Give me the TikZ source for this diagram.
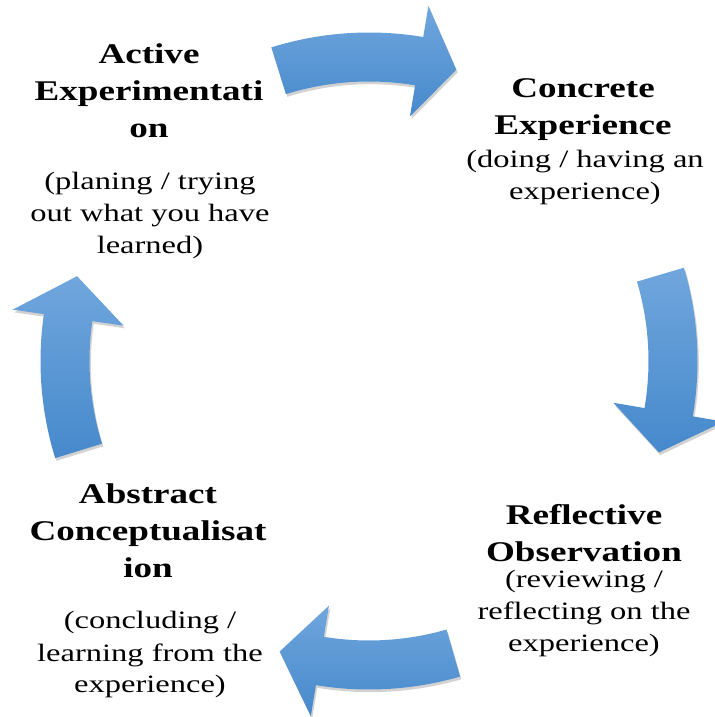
\documentclass[tikz,border=0pt]{standalone}
\usepackage{fontspec}
\setmainfont{Liberation Serif}
\usetikzlibrary{shadows}

\definecolor{arrowtop}{RGB}{112,166,221}
\definecolor{arrowbot}{RGB}{70,137,204}

\tikzset{
    cyclearrow/.style={top color=arrowtop, bottom color=arrowbot, draw=none,
        drop shadow={shadow xshift=1pt, shadow yshift=-2pt, opacity=0.25, fill=black!70}},
    stagehead/.style={align=center, anchor=base, inner sep=0pt, xscale=1.3,
        font=\fontsize{21.4pt}{28.1pt}\selectfont\bfseries},
    stagetext/.style={align=center, anchor=base, inner sep=0pt, xscale=1.3,
        font=\fontsize{18.75pt}{24pt}\selectfont}
}

\begin{document}
\begin{tikzpicture}[x=0.75pt, y=0.75pt]
    \useasboundingbox (0,0) rectangle (714,717);

    \node[stagehead] (ae) at (149, 579) {Active\\Experimentati\\on};
    \node[stagetext] (aetext) at (150, 463) {(planing / trying\\out what you have\\learned)};

    \node[stagehead] (ce) at (583, 582) {Concrete\\Experience};
    \node[stagetext] (cetext) at (585, 517) {(doing / having an\\experience)};

    \node[stagehead] (ro) at (584, 155) {Reflective\\Observation};
    \node[stagetext] (rotext) at (584, 65) {(reviewing /\\reflecting on the\\experience)};

    \node[stagehead] (ac) at (148, 139) {Abstract\\Conceptualisat\\ion};
    \node[stagetext] (actext) at (150, 24) {(concluding /\\learning from the\\experience)};

    % Draw the curved arrows round the centre of the cycle
    \begin{scope}[shift={(369,356)}]
        \draw[cyclearrow] (107.3:328.5) arc[start angle=107.3, end angle=80.5, radius=328.5]
            -- (80.5:360) -- (73.3:304) -- (80.5:248) -- (80.5:279.5)
            arc[start angle=80.5, end angle=107.3, radius=279.5] -- cycle;
        \draw[cyclearrow] (16.5:328.5) arc[start angle=16.5, end angle=-9.7, radius=328.5]
            -- (-9.7:360) -- (-17.5:304) -- (-9.7:248) -- (-9.7:279.5)
            arc[start angle=-9.7, end angle=16.5, radius=279.5] -- cycle;
        \draw[cyclearrow] (-73.9:328.5) arc[start angle=-73.9, end angle=-99.3, radius=328.5]
            -- (-99.3:360) -- (-107.1:304) -- (-99.3:248) -- (-99.3:279.5)
            arc[start angle=-99.3, end angle=-73.9, radius=279.5] -- cycle;
        \draw[cyclearrow] (197.2:328.5) arc[start angle=197.2, end angle=171.8, radius=328.5]
            -- (171.8:360) -- (163.8:304) -- (171.8:248) -- (171.8:279.5)
            arc[start angle=171.8, end angle=197.2, radius=279.5] -- cycle;
    \end{scope}
\end{tikzpicture}
\end{document}
